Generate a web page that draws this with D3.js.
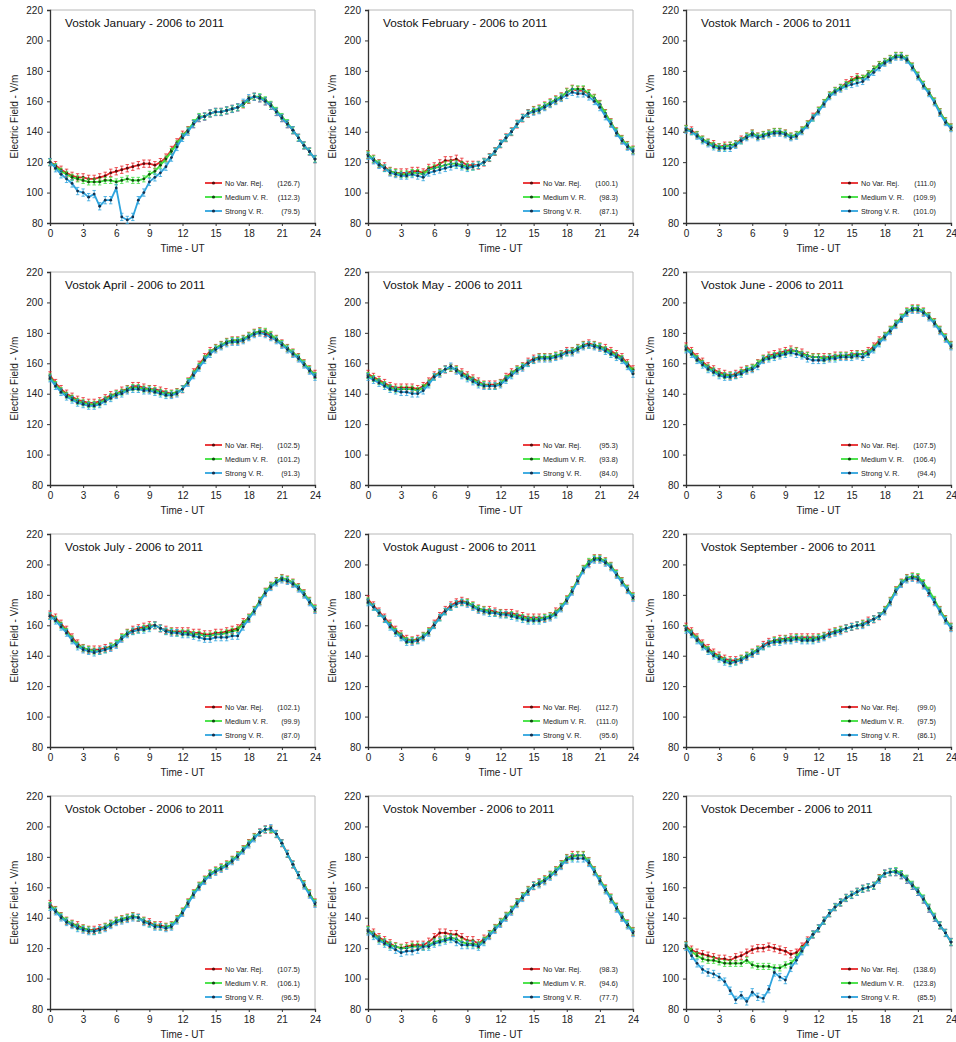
<!DOCTYPE html>
<html>
<head>
<meta charset="utf-8">
<script src="https://cdn.jsdelivr.net/npm/d3@7/dist/d3.min.js"></script>
<style>
  html, body { margin: 0; padding: 0; background: #fff; }
  svg { display: block; font-family: "Liberation Sans", Arial, sans-serif; }
</style>
</head>
<body>
<svg id="chart" width="956" height="1042"></svg>
<script>
// Half-hourly UT bins
const hours = [0,0.5,1,1.5,2,2.5,3,3.5,4,4.5,5,5.5,6,6.5,7,7.5,8,8.5,9,9.5,10,10.5,11,11.5,12,12.5,13,13.5,14,14.5,15,15.5,16,16.5,17,17.5,18,18.5,19,19.5,20,20.5,21,21.5,22,22.5,23,23.5,24];
const months = ["January","February","March","April","May","June","July","August","September","October","November","December"];
const seriesNames = ["No Var. Rej.", "Medium V. R.", "Strong V. R."];
const xTicks = [0,3,6,9,12,15,18,21,24];
const yTicks = [80,100,120,140,160,180,200,220];

// Monthly mean field for each variability-rejection level (V/m)
const janNoVar  = [120,118,115,113,111,110,110,109,109,110,111,113,114,115,116,117,118,119,119,118,120,123,128,133,138,141,145,149,150,152,153,153,154,155,156,158,161,163,162,160,157,153,149,145,141,136,131,127,122];
const janMedium = [120,117,114,112,110,109,108,107,107,107,108,108,107,108,109,108,108,109,112,114,118,122,127,132,137,141,146,150,150,152,153,153,154,155,156,158,161,163,163,161,158,154,150,146,141,136,131,127,122];
const janStrong = [120,116,112,109,106,101,100,97,99,91,95,95,103,84,82,84,95,100,107,110,113,117,123,130,136,140,145,149,150,152,153,153,154,155,156,159,162,163,162,160,157,153,149,145,141,136,131,127,122];

const febNoVar  = [125,122,119,117,114,113,113,113,114,114,113,116,117,119,121,121,122,120,118,118,118,120,123,127,132,136,140,145,149,152,154,155,157,159,161,163,166,168,167,167,165,162,158,152,146,140,135,131,128];
const febMedium = [125,122,119,116,114,113,112,112,113,113,112,115,116,117,118,119,119,118,117,117,118,120,123,127,132,136,140,145,149,152,154,155,157,159,161,163,166,168,168,168,165,162,158,152,146,140,135,131,128];
const febStrong = [124,121,118,116,113,112,111,111,112,111,110,113,114,115,116,117,118,117,116,117,118,120,123,127,132,136,140,145,149,152,153,154,156,158,160,162,164,166,165,165,163,160,156,150,145,139,134,130,127];

const marNoVar  = [142,141,138,135,133,132,130,131,131,132,135,137,139,137,138,139,140,140,139,137,138,141,145,150,154,159,164,167,169,172,174,176,175,178,181,184,186,188,190,190,188,183,177,171,166,160,153,147,143];
const marMedium = [142,140,138,135,133,131,130,130,131,132,134,137,139,137,138,139,140,140,139,137,138,141,145,149,154,159,164,167,169,171,173,175,175,178,181,184,186,188,190,190,188,183,177,171,166,160,153,147,143];
const marStrong = [141,140,137,134,132,130,129,129,129,131,134,136,138,136,137,138,139,139,138,136,137,140,144,149,153,158,163,166,168,170,171,172,173,176,179,182,185,187,189,189,187,182,176,170,165,159,152,146,142];

const aprNoVar  = [152,147,143,140,138,136,135,134,134,135,137,139,140,142,143,145,145,144,143,143,142,141,140,141,143,148,154,159,164,168,170,172,174,175,175,176,178,180,181,180,178,176,173,170,167,164,160,156,153];
const aprMedium = [151,146,142,139,137,135,134,133,133,134,136,138,140,141,143,144,144,143,143,142,141,140,140,141,143,148,153,158,163,167,170,172,174,175,175,176,178,180,181,181,179,176,173,170,167,164,160,156,152];
const aprStrong = [150,145,141,138,136,134,133,132,132,133,135,137,139,140,142,143,143,142,142,141,140,139,139,140,143,147,152,157,162,166,169,171,173,174,174,175,177,179,180,179,177,175,172,169,166,163,159,155,151];

const mayNoVar  = [153,151,149,147,145,144,144,144,144,143,145,148,152,154,156,157,156,154,152,150,148,146,146,146,147,151,154,156,158,161,163,164,164,164,165,166,168,168,170,172,173,172,171,170,168,166,164,160,156];
const mayMedium = [152,150,148,146,144,143,143,143,143,142,144,147,151,154,156,157,156,153,151,149,147,146,145,145,147,150,153,156,158,160,162,164,164,164,165,166,167,168,170,172,172,172,171,169,167,165,163,159,155];
const mayStrong = [151,149,147,145,143,142,141,141,140,140,142,146,151,153,156,158,155,152,150,148,146,145,145,145,146,149,152,155,157,160,162,163,163,163,164,165,167,167,169,171,172,171,170,168,166,164,162,158,153];

const junNoVar  = [171,168,164,161,158,156,154,153,152,153,155,156,157,160,163,165,166,167,168,169,168,167,165,164,164,164,164,165,165,165,166,166,166,168,171,175,178,182,186,190,194,196,196,194,191,187,182,177,172];
const junMedium = [170,167,163,160,157,155,153,152,152,152,154,156,157,160,163,164,165,166,167,168,168,166,165,164,164,163,164,164,165,165,165,166,166,167,170,174,178,182,186,190,194,196,196,194,191,187,182,177,172];
const junStrong = [169,166,162,159,156,154,152,151,151,152,153,155,156,158,162,163,164,165,166,167,166,165,163,162,162,162,163,163,164,164,164,165,164,166,169,173,177,181,185,189,193,195,195,193,190,186,181,176,171];

const julNoVar  = [167,165,161,157,152,148,145,144,144,144,145,146,148,152,155,157,158,159,160,160,158,157,156,156,156,156,155,155,154,154,155,155,156,157,158,162,165,170,176,182,186,189,191,190,188,185,181,176,171];
const julMedium = [166,164,160,156,151,147,145,144,143,143,144,146,148,152,155,156,157,158,159,160,158,156,156,155,155,155,154,154,153,153,154,154,155,156,157,161,165,170,176,182,186,189,191,190,188,185,181,176,171];
const julStrong = [166,163,159,155,150,146,144,143,142,143,144,145,147,151,154,156,157,157,158,160,158,156,155,155,154,154,153,152,151,151,152,152,152,153,153,159,164,169,175,181,185,188,190,189,187,184,180,175,170];

const augNoVar  = [177,173,169,165,161,157,154,151,150,151,153,156,161,166,170,173,175,176,175,173,171,170,170,169,168,168,168,167,166,165,165,165,165,166,169,172,177,183,190,197,201,204,204,202,199,194,189,184,179];
const augMedium = [176,172,168,164,160,156,153,150,150,150,153,156,160,165,169,172,174,175,175,173,171,170,169,168,168,167,167,166,165,164,164,164,165,166,168,172,177,183,190,197,202,204,204,202,199,194,189,184,179];
const augStrong = [175,172,168,164,159,155,152,149,149,150,152,155,160,165,169,172,174,175,174,172,170,169,168,168,167,167,166,165,164,163,163,163,164,165,167,171,176,182,189,196,200,203,203,201,198,193,188,183,178];

const sepNoVar  = [159,156,152,148,145,142,140,138,137,137,138,140,142,144,147,149,150,151,151,152,152,152,152,152,152,153,155,156,157,158,159,160,161,163,164,166,170,176,183,188,191,192,191,187,182,176,170,164,159];
const sepMedium = [158,155,151,147,144,141,139,137,136,136,138,140,142,144,146,148,150,150,151,151,152,151,151,151,152,153,154,156,157,158,159,160,161,162,164,166,170,176,183,188,191,192,192,188,183,177,170,164,159];
const sepStrong = [157,154,150,146,143,140,138,136,135,136,137,139,141,143,146,148,149,149,150,150,151,150,150,150,151,152,154,155,156,158,159,160,160,162,164,166,169,175,182,187,190,191,190,186,181,175,169,163,158];

const octNoVar  = [149,145,141,138,136,135,133,132,132,133,134,136,138,139,140,141,140,138,137,135,135,134,135,139,144,150,156,161,165,169,171,173,175,178,181,185,189,193,196,198,198,195,189,182,175,168,162,156,150];
const octMedium = [148,145,141,138,136,134,133,132,131,132,134,136,138,139,140,141,140,138,136,135,134,134,135,139,144,150,156,161,165,169,171,173,175,178,181,185,189,193,196,198,198,195,189,182,175,168,162,156,150];
const octStrong = [147,144,140,137,135,133,132,131,131,132,133,135,137,138,139,140,140,137,136,134,134,133,134,138,143,149,155,160,164,168,170,172,174,177,180,184,188,192,196,198,199,195,189,182,175,168,161,155,149];

const novNoVar  = [132,130,127,125,123,121,120,121,122,122,122,124,127,130,130,129,129,127,125,125,123,126,129,133,137,141,145,150,154,158,161,163,165,168,171,175,179,181,181,181,177,171,165,159,153,147,141,136,131];
const novMedium = [132,129,126,124,122,121,120,120,121,121,121,122,124,125,126,127,126,124,123,123,122,125,129,133,137,141,145,150,154,158,161,163,165,168,171,175,179,180,181,181,177,171,165,159,153,147,141,136,131];
const novStrong = [131,128,125,123,121,119,117,118,118,119,121,121,123,124,125,126,124,122,122,122,121,124,128,132,136,140,144,149,153,157,161,162,164,167,170,174,178,179,179,179,176,170,164,158,152,146,140,135,130];

const decNoVar  = [122,119,117,116,115,114,113,113,112,114,115,117,119,120,120,121,120,119,118,116,117,121,125,129,133,138,143,147,150,153,155,157,159,160,161,166,169,170,170,168,165,161,157,152,146,140,135,130,124];
const decMedium = [122,118,115,113,112,112,111,110,110,110,110,112,109,108,108,108,107,107,109,110,114,119,124,129,133,138,143,147,150,153,155,157,159,160,161,166,169,170,171,169,166,162,158,153,147,141,135,130,124];
const decStrong = [121,115,110,106,104,103,101,98,92,86,89,85,91,88,87,93,104,101,99,107,112,118,124,129,133,138,143,147,150,153,155,157,159,160,161,165,169,170,170,168,165,161,157,152,146,140,135,130,124];

// Legend figures (number of days retained, per month)
const legendNoVar  = ["126.7","100.1","111.0","102.5","95.3","107.5","102.1","112.7","99.0","107.5","98.3","138.6"];
const legendMedium = ["112.3","98.3","109.9","101.2","93.8","106.4","99.9","111.0","97.5","106.1","94.6","123.8"];
const legendStrong = ["79.5","87.1","101.0","91.3","84.0","94.4","87.0","95.6","86.1","96.5","77.7","85.5"];

// Standard error of each half-hour mean (V/m)
const errNoVar  = [2.4,2.6,2.2,2.4,2.4,2.4,2.4,2.4,2.4,2.4,2.6,2.4];
const errMedium = [2.0,2.2,2.0,2.0,2.0,2.0,2.0,2.0,2.0,2.0,2.2,2.0];
const errStrong = [2.4,2.2,2.0,2.2,2.2,2.2,2.2,2.2,2.2,2.2,2.4,2.4];

const noVarByMonth  = [janNoVar, febNoVar, marNoVar, aprNoVar, mayNoVar, junNoVar, julNoVar, augNoVar, sepNoVar, octNoVar, novNoVar, decNoVar];
const mediumByMonth = [janMedium, febMedium, marMedium, aprMedium, mayMedium, junMedium, julMedium, augMedium, sepMedium, octMedium, novMedium, decMedium];
const strongByMonth = [janStrong, febStrong, marStrong, aprStrong, mayStrong, junStrong, julStrong, augStrong, sepStrong, octStrong, novStrong, decStrong];

// ---- drawing ----
const styles = [
  { line: "#e8262a", marker: "#5a0a0a" },
  { line: "#3ce03c", marker: "#104a10" },
  { line: "#2ea4de", marker: "#13304f" }
];

const svg = d3.select("#chart");
svg.append("rect").attr("width", 956).attr("height", 1042).attr("fill", "#fff");

const colLeft = [50, 368, 686];
const rowTop = [10, 272, 534, 796];
const plotW = 265, plotH = 213;

months.forEach((m, i) => {
  const left = colLeft[i % 3], top = rowTop[Math.floor(i / 3)];
  const g = svg.append("g").attr("transform", `translate(${left},${top})`);

  const x = d3.scaleLinear().domain([0, 24]).range([0, plotW]);
  const y = d3.scaleLinear().domain([80, 220]).range([plotH, 0]);

  // frame (top & right)
  g.append("path")
    .attr("d", `M0,0H${plotW}V${plotH}`)
    .attr("fill", "none").attr("stroke", "#b8b8b8").attr("stroke-width", 1);

  // axes
  const xAxis = g.append("g").attr("transform", `translate(0,${plotH})`)
    .call(d3.axisBottom(x).tickValues(xTicks).tickSize(3).tickPadding(4).tickFormat(d3.format("d")));
  const yAxis = g.append("g")
    .call(d3.axisLeft(y).tickValues(yTicks).tickSize(3).tickPadding(4).tickFormat(d3.format("d")));
  [xAxis, yAxis].forEach(a => {
    a.select(".domain").attr("stroke", "#333").attr("stroke-width", 1.3);
    a.selectAll(".tick line").attr("stroke", "#333");
    a.selectAll("text").attr("font-size", 10).attr("fill", "#222")
      .attr("font-family", '"Liberation Sans", Arial, sans-serif');
  });

  g.append("text")
    .attr("x", plotW / 2).attr("y", plotH + 29)
    .attr("text-anchor", "middle").attr("font-size", 10).attr("fill", "#222")
    .text("Time - UT");
  g.append("text")
    .attr("transform", `translate(-32,${plotH / 2}) rotate(-90)`)
    .attr("text-anchor", "middle").attr("font-size", 10).attr("fill", "#222")
    .text("Electric Field - V/m");

  g.append("text")
    .attr("x", 15).attr("y", 17)
    .attr("font-size", 11.8).attr("fill", "#111")
    .text(`Vostok ${m} - 2006 to 2011`);

  const plotArea = g.append("g");
  const seriesData = [noVarByMonth[i], mediumByMonth[i], strongByMonth[i]];
  const errs = [errNoVar[i], errMedium[i], errStrong[i]];
  const line = d3.line().x((d, k) => x(hours[k])).y(d => y(d));

  seriesData.forEach((vals, s) => {
    const sg = plotArea.append("g");
    // error bars
    const eb = sg.selectAll("g.eb").data(vals).join("g");
    eb.append("line")
      .attr("x1", (d, k) => x(hours[k])).attr("x2", (d, k) => x(hours[k]))
      .attr("y1", d => y(d - errs[s])).attr("y2", d => y(d + errs[s]))
      .attr("stroke", styles[s].line).attr("stroke-width", 0.8);
    [-1, 1].forEach(sign => {
      eb.append("line")
        .attr("x1", (d, k) => x(hours[k]) - 1.7).attr("x2", (d, k) => x(hours[k]) + 1.7)
        .attr("y1", d => y(d + sign * errs[s])).attr("y2", d => y(d + sign * errs[s]))
        .attr("stroke", styles[s].line).attr("stroke-width", 0.8);
    });
    sg.append("path").datum(vals)
      .attr("d", line).attr("fill", "none")
      .attr("stroke", styles[s].line).attr("stroke-width", 1.8);
    sg.selectAll("circle").data(vals).join("circle")
      .attr("cx", (d, k) => x(hours[k])).attr("cy", d => y(d))
      .attr("r", 1.4).attr("fill", styles[s].marker);
  });

  // legend
  const legendVals = [legendNoVar[i], legendMedium[i], legendStrong[i]];
  const lg = g.append("g");
  seriesNames.forEach((name, s) => {
    const ly = plotH - 40 + s * 14;
    lg.append("line").attr("x1", 155).attr("x2", 172).attr("y1", ly).attr("y2", ly)
      .attr("stroke", styles[s].line).attr("stroke-width", 1.8);
    lg.append("circle").attr("cx", 163.5).attr("cy", ly).attr("r", 1.6).attr("fill", styles[s].marker);
    lg.append("text").attr("x", 175).attr("y", ly + 2.5)
      .attr("font-size", 7.2).attr("fill", "#222").text(name);
    lg.append("text").attr("x", 250).attr("y", ly + 2.5).attr("text-anchor", "end")
      .attr("font-size", 7.2).attr("fill", "#222").text(`(${legendVals[s]})`);
  });
});
</script>
</body>
</html>
